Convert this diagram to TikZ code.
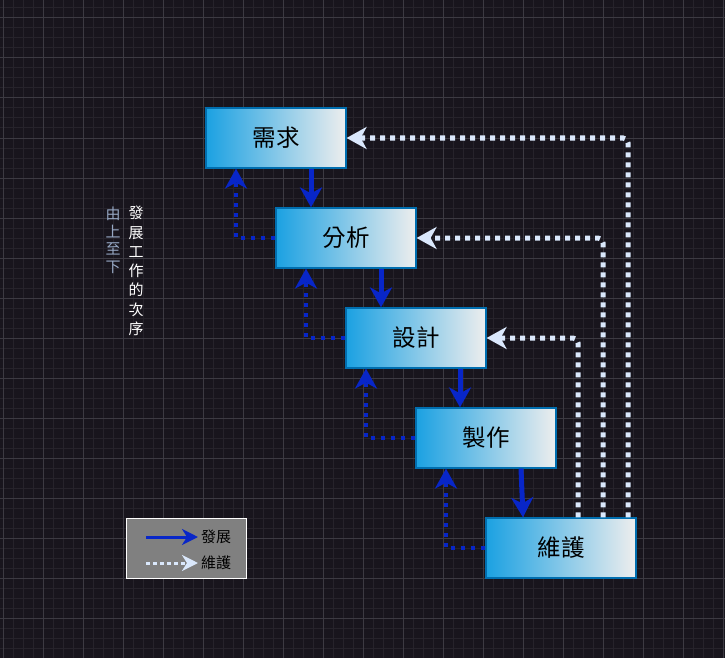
\documentclass[tikz,border=0pt]{standalone}
\usepackage{fontspec}
\setmainfont{Noto Sans CJK TC}
\usetikzlibrary{arrows.meta}
\definecolor{bgc}{RGB}{24,21,29}
\definecolor{gminor}{RGB}{38,35,43}
\definecolor{gmajor}{RGB}{60,58,66}
\definecolor{boxl}{RGB}{27,161,226}
\definecolor{boxr}{RGB}{238,238,238}
\definecolor{boxb}{RGB}{0,110,175}
\definecolor{devc}{RGB}{8,38,200}
\definecolor{mntc}{RGB}{218,232,252}
\definecolor{sidec}{RGB}{150,168,196}
\tikzset{
  stage/.style={draw=boxb, line width=1.2pt, left color=boxl, right color=boxr,
    minimum width=140pt, minimum height=60pt, inner sep=0pt, font=\fontsize{23.5}{26}\selectfont, text=black},
  bighead/.style={-{Stealth[length=20pt,width=22pt,inset=6pt]}},
  dev/.style={draw=devc, line width=5pt, bighead},
  devback/.style={draw=devc, line width=4.5pt, dash pattern=on 4.5pt off 5.5pt, bighead},
  mnt/.style={draw=mntc, line width=5pt, dash pattern=on 5pt off 5pt, rounded corners=5pt, bighead},
}
\begin{document}
\begin{tikzpicture}[x=1pt,y=-1pt]
\fill[bgc] (0,0) rectangle (725,658);
\useasboundingbox (0,0) rectangle (725,658);
\foreach \x in {3,13,...,723} \draw[gminor, line width=1pt] (\x,0) -- (\x,658);
\foreach \y in {8,18,...,658} \draw[gminor, line width=1pt] (0,\y) -- (725,\y);
\foreach \x in {3,43,...,723} \draw[gmajor, line width=1pt] (\x,0) -- (\x,658);
\foreach \y in {18,58,...,658} \draw[gmajor, line width=1pt] (0,\y) -- (725,\y);

\node[stage] (r) at (276,138) {需求};
\node[stage] (a) at (346,238) {分析};
\node[stage] (d) at (416,338) {設計};
\node[stage] (p) at (486,438) {製作};
\node[stage, minimum width=150pt] (m) at (561,548) {維護};

\draw[dev] ([xshift=35pt]r.south) -- ([xshift=-35pt]a.north);
\draw[dev] ([xshift=35pt]a.south) -- ([xshift=-35pt]d.north);
\draw[dev] ([xshift=44pt]d.south) -- ([xshift=-26pt]p.north);
\draw[dev] ([xshift=35pt]p.south) -- ([xshift=-38pt]m.north);

\draw[devback] (a.west) -| ([xshift=-40pt]r.south);
\draw[devback] (d.west) -| ([xshift=-40pt]a.south);
\draw[devback] (p.west) -| ([xshift=-50pt]d.south);
\draw[devback] (m.west) -| ([xshift=-40pt]p.south);

\draw[mnt] ([xshift=17pt]m.north) |- (d.east);
\draw[mnt] ([xshift=42pt]m.north) |- (a.east);
\draw[mnt] ([xshift=67pt]m.north) |- (r.east);

\node[text=white, font=\fontsize{15}{19.3}\selectfont, align=center, anchor=north, inner sep=0pt] (side1) at (136,206) {發\\展\\工\\作\\的\\次\\序};
\node[text=sidec, font=\fontsize{15}{17.5}\selectfont, align=center, anchor=north, inner sep=0pt] (side2) at (113,207) {由\\上\\至\\下};

\node[draw=white, line width=1pt, fill=gray, minimum width=120pt, minimum height=60pt, inner sep=0pt] (lg) at (186,548) {};
\coordinate (l1a) at (146,537);
\coordinate (l1b) at (198,537);
\coordinate (l2a) at (146,563);
\coordinate (l2b) at (198,563);
\draw[draw=devc, line width=3pt, -{Stealth[length=16pt,width=16pt,inset=5pt]}] (l1a) -- (l1b);
\draw[draw=mntc, line width=3pt, dash pattern=on 3.5pt off 3.5pt, -{Stealth[length=16pt,width=16pt,inset=5pt]}] (l2a) -- (l2b);
\node[anchor=west, font=\fontsize{15}{17}\selectfont, text=black, inner sep=0pt] (t1) at (201,537) {發展};
\node[anchor=west, font=\fontsize{15}{17}\selectfont, text=black, inner sep=0pt] (t2) at (201,563) {維護};
\end{tikzpicture}
\end{document}
